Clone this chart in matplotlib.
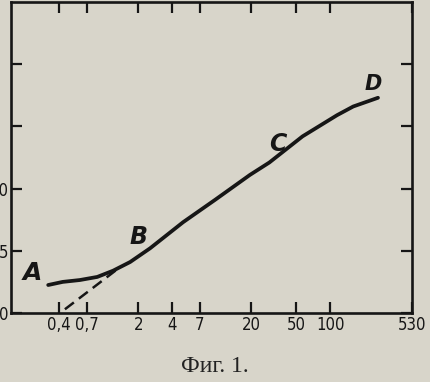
import matplotlib.pyplot as plt

# curve ABCD (log x)
curve_x = [0.32, 0.43, 0.61, 0.87, 1.2, 1.7, 2.55, 5.0, 9.6, 19.5, 29, 57, 115, 160, 265]
curve_y = [2.25, 2.5, 2.65, 2.9, 3.4, 4.1, 5.2, 7.3, 9.1, 11.1, 12.1, 14.2, 15.9, 16.6, 17.3]

# dashed extrapolation of the straight part
dash_x = [0.45, 1.3]
dash_y = [0.3, 3.5]

xticks = [0.4, 0.7, 2, 4, 7, 20, 50, 100, 530]
xlabels = ["0,4", "0,7", "2", "4", "7", "20", "50", "100", "530"]
yticks = [0, 5, 10]
ylabels = ["0", "5", "10"]
yticks_minor = [15, 20]

paper = "#d8d5ca"
ink = "#161616"

fig = plt.figure(figsize=(4.30, 3.82), dpi=100, facecolor=paper)
ax = fig.add_axes([11 / 430, 1 - 313 / 382, 401 / 430, 311 / 382])
ax.set_facecolor(paper)

ax.plot(curve_x, curve_y, color=ink, lw=2.7, solid_capstyle="round", solid_joinstyle="round")
ax.plot(dash_x, dash_y, color=ink, lw=1.8, dashes=(4.5, 2.5))

ax.set_xscale("log")
ax.set_xlim(0.15, 530)
ax.set_ylim(0, 25)

ax.set_xticks(xticks)
ax.set_xticklabels(xlabels)
ax.xaxis.set_minor_locator(plt.NullLocator())
ax.set_yticks(yticks + yticks_minor)
ax.set_yticklabels(ylabels + ["", ""])

for s in ax.spines.values():
    s.set_linewidth(1.9)
    s.set_color(ink)

ax.tick_params(direction="in", top=True, right=True, length=8, width=1.6,
               color=ink, labelcolor=ink, pad=2)
for lab in ax.get_xticklabels() + ax.get_yticklabels():
    lab.set_family(["DejaVu Sans"])
    lab.set_fontstretch("condensed")
    lab.set_fontsize(12)
    lab.set_fontweight("medium")

# point letters
letters = [("A", 0, (-16, 12), 18), ("B", 5, (8, 25), 17),
           ("C", 10, (8, 18), 17), ("D", 14, (-5, 14), 15)]
for txt, i, off, fs in letters:
    ax.annotate(txt, (curve_x[i], curve_y[i]), xytext=off, textcoords="offset pixels",
                ha="center", va="center", fontsize=fs, fontweight="bold",
                fontstyle="italic", color=ink)

fig.text(0.5, 15 / 382, "Фиг. 1.", ha="center", va="center", fontsize=17,
         family=["Liberation Serif", "DejaVu Serif"], color="#222222")

fig.savefig("out.png", dpi=100, facecolor=paper)
